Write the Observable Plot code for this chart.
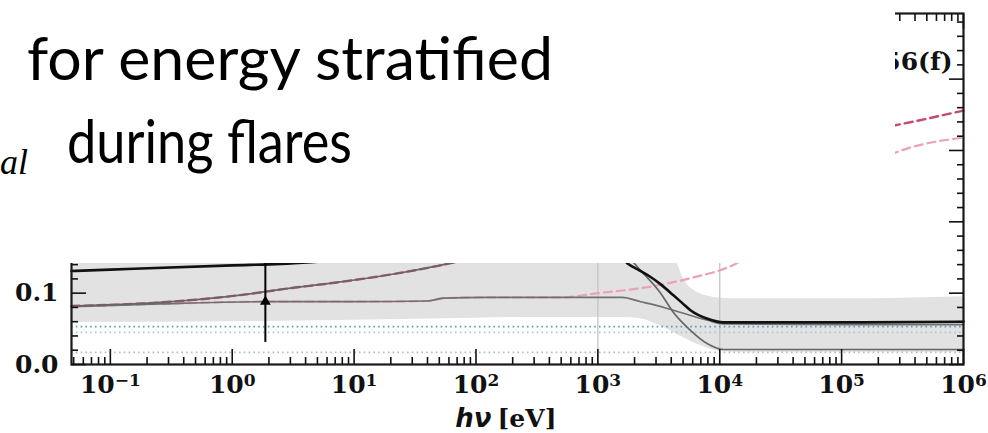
<!DOCTYPE html>
<html><head><meta charset="utf-8">
<script src="https://cdn.jsdelivr.net/npm/d3@7"></script>
<script src="https://cdn.jsdelivr.net/npm/@observablehq/plot@0.6"></script>
<style>
html,body{margin:0;padding:0;background:#fff;}
#wrap{position:relative;width:988px;height:433px;overflow:hidden;}
#cover{position:absolute;left:0;top:0;}
</style></head><body>
<div id="wrap"><div id="chart"></div>
<svg id="cover" width="895" height="263">
  <rect width="895" height="263" fill="#fff"/>
  <text x="27" y="80" font-family="Lato" font-size="60" textLength="526" lengthAdjust="spacingAndGlyphs">for energy stratified</text>
  <text x="67" y="163" font-family="Lato" font-size="60" textLength="285" lengthAdjust="spacingAndGlyphs">during flares</text>
  <text x="0" y="174" font-family="Liberation Serif" font-style="italic" font-size="36">al</text>
</svg>
</div>
<script>
// ---- tick values / labels ----
const xMajor = [1e-1, 1e0, 1e1, 1e2, 1e3, 1e4, 1e5, 1e6];
const xBase = "10";
const xExp = ["−1", "0", "1", "2", "3", "4", "5", "6"];
const xMinor = [];
for (let k = -2; k <= 5; k++) for (let m = 2; m <= 9; m++) { const v = m * Math.pow(10, k); if (v >= 0.048 && v <= 1e6) xMinor.push(v); }
const yMajor = [0, 0.1, 0.2, 0.3, 0.4];
const yLabelled = [0, 0.1];
const yMinor = [0.02, 0.04, 0.06, 0.08, 0.12, 0.14, 0.16, 0.18, 0.22, 0.24, 0.26, 0.28, 0.32, 0.34, 0.36, 0.38, 0.42, 0.44, 0.46, 0.48];
const verticalMarks = [1e3, 1e4];
const panelLabel = "56(f)";

// ---- series (photon energy in eV, value) ----
const blackE = [0.048, 0.1, 1, 2.5, 10, 100, 630, 1260, 1740, 2190, 2690, 3240, 4170, 5010, 5750, 7940, 10700, 1e5, 1e6];
const blackV = [0.131, 0.133, 0.139, 0.141, 0.148, 0.165, 0.180, 0.168, 0.142, 0.132, 0.123, 0.113, 0.097, 0.085, 0.076, 0.064, 0.059, 0.059, 0.060];

const grayHiE = [0.048, 0.257, 1.7, 2.45, 7.2, 25, 62, 200, 630, 1260, 1780, 2240, 3240, 4170, 5750, 7940, 10700, 1e5, 1e6];
const grayHiV = [0.082, 0.087, 0.101, 0.105, 0.115, 0.129, 0.142, 0.160, 0.175, 0.170, 0.150, 0.132, 0.101, 0.073, 0.048, 0.029, 0.021, 0.021, 0.021];

const grayLoE = [0.048, 0.257, 1.86, 10, 40, 54, 126, 1000, 1585, 2240, 2690, 4170, 7940, 10700, 1e5, 1e6];
const grayLoV = [0.081, 0.085, 0.088, 0.088, 0.089, 0.093, 0.094, 0.094, 0.094, 0.088, 0.085, 0.076, 0.062, 0.057, 0.056, 0.056];

const pinkDarkE = [0.048, 0.257, 1.7, 2.45, 7.2, 25, 62, 200, 630, 2000, 6310, 20000, 63100, 126000, 269000, 1e6];
const pinkDarkV = [0.082, 0.087, 0.101, 0.105, 0.115, 0.129, 0.142, 0.165, 0.190, 0.215, 0.245, 0.280, 0.310, 0.325, 0.335, 0.356];

const pinkLightE = [0.048, 0.257, 1.86, 10, 40, 54, 126, 490, 1000, 2240, 5750, 14100, 31600, 1e5, 269000, 1e6];
const pinkLightV = [0.081, 0.085, 0.088, 0.088, 0.089, 0.093, 0.094, 0.094, 0.100, 0.107, 0.121, 0.143, 0.190, 0.255, 0.296, 0.318];

const bandE  = [0.048, 1, 10, 100, 316, 1585, 2240, 3160, 4170, 4470, 5010, 6610, 7940, 8910, 10700, 14800, 1e5, 1e6];
const bandLo = [0.059, 0.060, 0.062, 0.065, 0.066, 0.066, 0.064, 0.055, 0.045, 0.042, 0.038, 0.028, 0.023, 0.020, 0.018, 0.017, 0.017, 0.017];
const bandHi = [0.170, 0.175, 0.180, 0.200, 0.210, 0.200, 0.185, 0.165, 0.150, 0.142, 0.121, 0.101, 0.096, 0.094, 0.093, 0.092, 0.092, 0.095];

const dottedLevels = [0.053, 0.045, 0.017];
const dottedColors = ["#4aa5b8", "#95cfe0", "#a3c1d2"];

const obsE = [1.87], obsV = [0.088], obsLo = [0.031], obsHi = [0.145];

// ---- build tables ----
const pts = (E, V) => E.map((e, i) => ({e, v: V[i]}));
const band = bandE.map((e, i) => ({e, lo: bandLo[i], hi: bandHi[i]}));
const obs = obsE.map((e, i) => ({e, v: obsV[i], lo: obsLo[i], hi: obsHi[i]}));
const dotted = dottedLevels.map((v, i) => ({v, c: dottedColors[i]}));

const serif = "DejaVu Serif";
const tickCol = "#111";
const baseSize = 25, expSize = 17;

// measure label widths so that "10^k" is centred on its tick, as matplotlib does
const ctx = document.createElement("canvas").getContext("2d");
const w = (s, size) => { ctx.font = `bold ${size}px "${serif}"`; return ctx.measureText(s).width; };
const xLabelMarks = xMajor.flatMap((t, i) => {
  const bw = w(xBase, baseSize), ew = w(xExp[i], expSize), total = bw + ew;
  return [
    Plot.text([t], {x: d => d, frameAnchor: "bottom", text: () => xBase, textAnchor: "start", lineAnchor: "top",
      dx: -total / 2, dy: 11, fontSize: baseSize, fontWeight: "bold", fontFamily: serif, fill: "#111"}),
    Plot.text([t], {x: d => d, frameAnchor: "bottom", text: () => xExp[i], textAnchor: "start", lineAnchor: "top",
      dx: -total / 2 + bw, dy: 9, fontSize: expSize, fontWeight: "bold", fontFamily: serif, fill: "#111"})
  ];
});

const chart = Plot.plot({
  width: 988, height: 433,
  marginLeft: 71, marginRight: 25, marginTop: 13, marginBottom: 69,
  style: {background: "white", color: "#111", fontFamily: serif},
  x: {type: "log", domain: [0.048, 1e6]},
  y: {domain: [0, 0.492]},
  marks: [
    Plot.areaY(band, {x: "e", y1: "lo", y2: "hi", fill: "#e2e2e2", curve: "monotone-x"}),
    Plot.ruleX(verticalMarks, {stroke: "#c4c4c4", strokeWidth: 1.3}),
    Plot.ruleY(dotted, {y: "v", stroke: "c", strokeWidth: 1.7, strokeDasharray: "1.6,3.2"}),
    Plot.line(pts(pinkLightE, pinkLightV), {x: "e", y: "v", stroke: "#eaa2b5", strokeWidth: 2.2, strokeDasharray: "8,5", curve: "monotone-x"}),
    Plot.line(pts(pinkDarkE, pinkDarkV), {x: "e", y: "v", stroke: "#c44a6c", strokeWidth: 2.4, strokeDasharray: "8,5", curve: "monotone-x"}),
    Plot.line(pts(grayLoE, grayLoV), {x: "e", y: "v", stroke: "#707070", strokeWidth: 1.7, curve: "monotone-x"}),
    Plot.line(pts(grayHiE, grayHiV), {x: "e", y: "v", stroke: "#666", strokeWidth: 1.7, curve: "monotone-x"}),
    Plot.line(pts(blackE, blackV), {x: "e", y: "v", stroke: "#111", strokeWidth: 2.6, curve: "monotone-x"}),
    Plot.ruleX(obs, {x: "e", y1: "lo", y2: "hi", stroke: "#000", strokeWidth: 2}),
    Plot.dot(obs, {x: "e", y: "v", symbol: "triangle", r: 4, fill: "#000", stroke: "none"}),
    Plot.frame({stroke: "#1a1a1a", strokeWidth: 2.2}),
    // inward ticks
    Plot.axisX(xMajor, {anchor: "bottom", tickSize: -15, text: null, stroke: tickCol, strokeWidth: 1.6, label: null}),
    Plot.axisX(xMinor, {anchor: "bottom", tickSize: -7, text: null, stroke: tickCol, strokeWidth: 1.6, label: null}),
    Plot.axisX(xMajor, {anchor: "top", tickSize: -15, text: null, stroke: tickCol, strokeWidth: 1.6, label: null}),
    Plot.axisX(xMinor, {anchor: "top", tickSize: -7, text: null, stroke: tickCol, strokeWidth: 1.6, label: null}),
    Plot.axisY(yMajor, {anchor: "left", tickSize: -15, text: null, stroke: tickCol, strokeWidth: 1.6, label: null}),
    Plot.axisY(yMinor, {anchor: "left", tickSize: -7, text: null, stroke: tickCol, strokeWidth: 1.6, label: null}),
    Plot.axisY(yMajor, {anchor: "right", tickSize: -15, text: null, stroke: tickCol, strokeWidth: 1.6, label: null}),
    Plot.axisY(yMinor, {anchor: "right", tickSize: -7, text: null, stroke: tickCol, strokeWidth: 1.6, label: null}),
    // tick labels
    ...xLabelMarks,
    Plot.axisY(yLabelled, {anchor: "left", tickSize: 0, tickPadding: 13, label: null,
      tickFormat: d => d.toFixed(1),
      fontSize: baseSize, fontWeight: "bold", fontFamily: serif, fill: "#111"}),
    // axis title
    Plot.text(["hν"], {frameAnchor: "bottom", textAnchor: "end", dx: -26, dy: 62, lineAnchor: "bottom",
      fontSize: 26, fontWeight: "bold", fontStyle: "italic", fontFamily: "DejaVu Sans", fill: "#111"}),
    Plot.text(["[eV]"], {frameAnchor: "bottom", textAnchor: "start", dx: -20, dy: 62, lineAnchor: "bottom",
      fontSize: 25, fontWeight: "bold", fontFamily: serif, fill: "#111"}),
    // panel label
    Plot.text([panelLabel], {frameAnchor: "top-right", textAnchor: "end", lineAnchor: "middle", dx: -11, dy: 48,
      fontSize: 25, fontWeight: "bold", fontFamily: serif, fill: "#111"})
  ]
});
document.getElementById("chart").appendChild(chart);
</script>
</body></html>
